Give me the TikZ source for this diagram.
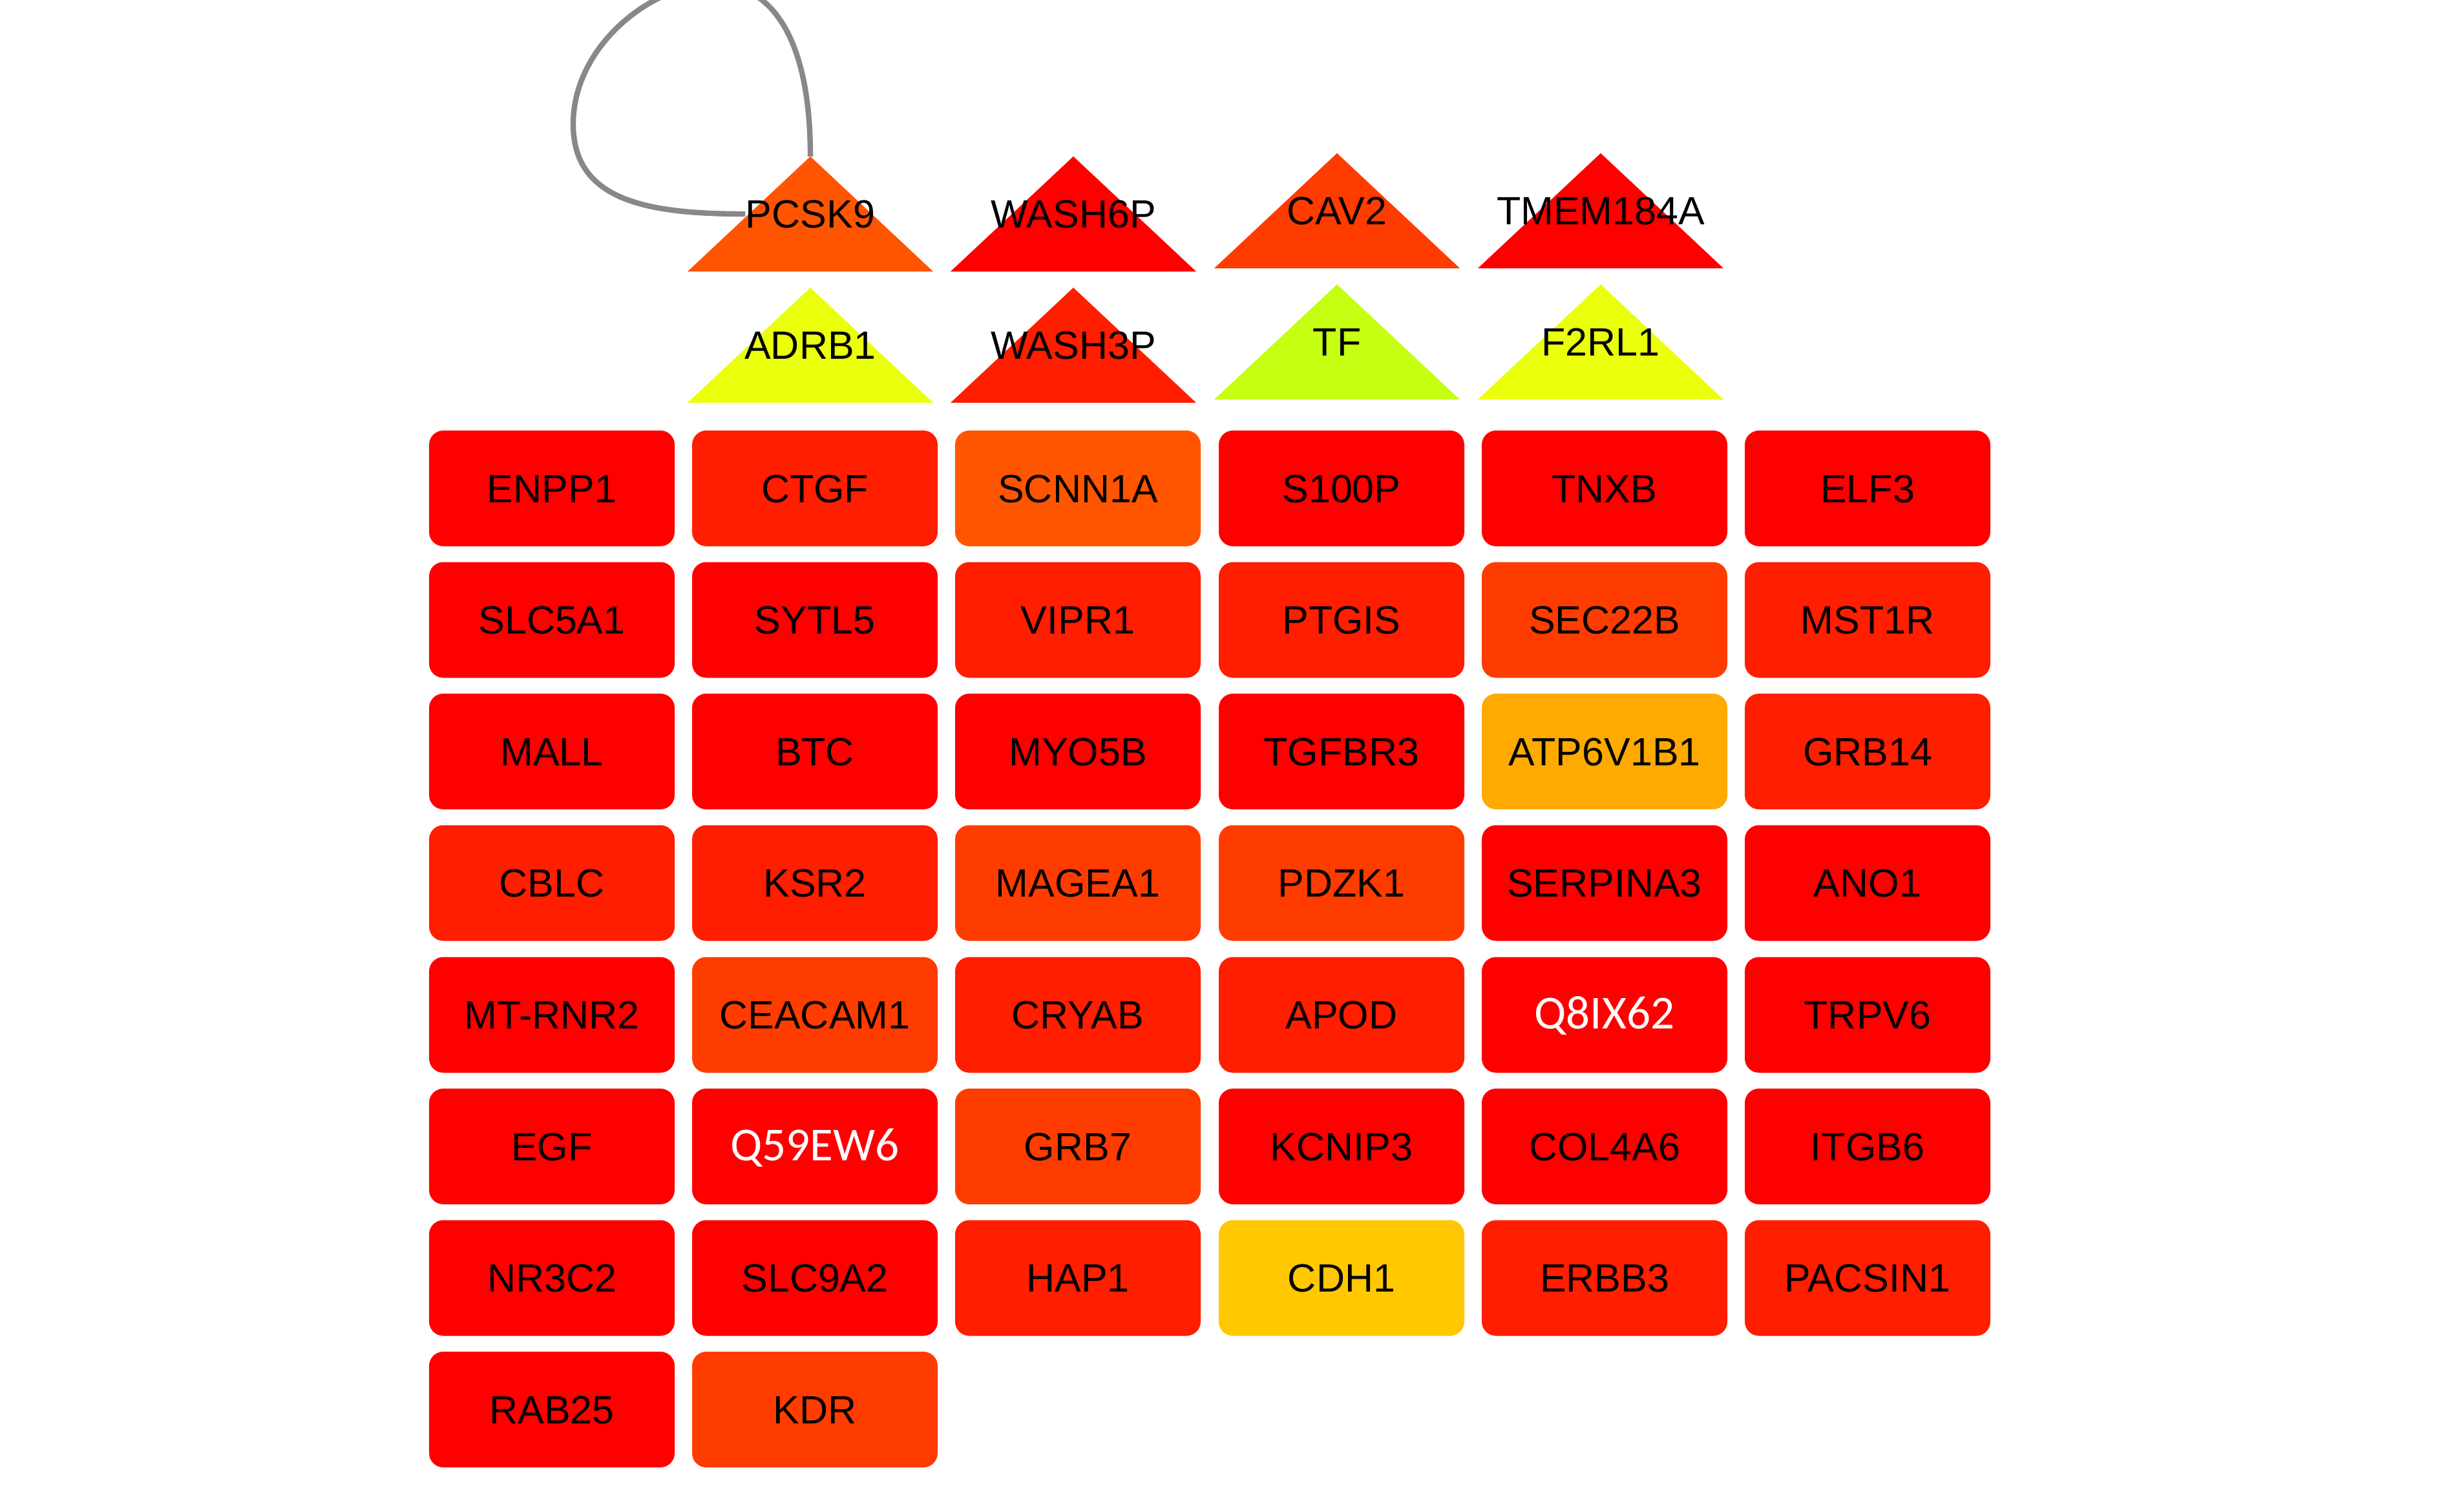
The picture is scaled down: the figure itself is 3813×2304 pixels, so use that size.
\documentclass[tikz,border=0pt]{standalone}
\usepackage{fontspec}
\setmainfont{Liberation Sans}
\newfontfamily\qfont{Carlito}

\definecolor{gred}{HTML}{FF0000}
\definecolor{gredA}{HTML}{FF1E00}
\definecolor{gredB}{HTML}{FF3C00}
\definecolor{gorange}{HTML}{FF5500}
\definecolor{gamber}{HTML}{FFAA00}
\definecolor{ggold}{HTML}{FFC800}
\definecolor{gyellow}{HTML}{EAFF0C}
\definecolor{glime}{HTML}{C5FF12}
\definecolor{loopgray}{HTML}{888888}

\tikzset{
  gene/.style={rounded corners=5.5pt, minimum width=95pt, minimum height=44.75pt,
    inner sep=0pt, font=\fontsize{15.25}{18}\selectfont, text height=10.9pt, text depth=0pt},
  tlabel/.style={inner sep=0pt, font=\fontsize{15.25}{18}\selectfont, text height=10.9pt, text depth=0pt},
  uniprot/.style={text=white, font=\qfont\fontsize{18.3}{22}\selectfont},
  selfloop/.style={draw=loopgray, line width=2.1pt},
}

\begin{document}
\begin{tikzpicture}[x=0.25pt, y=-0.25pt]
        \useasboundingbox (0,0) rectangle (3813,2304);
        \clip (0,0) rectangle (3813,2304);

        % triangles, upper row
        \fill[gorange] (1064,420) -- (1254,242) -- (1444,420) -- cycle;
        \fill[gred] (1471,420) -- (1661,242) -- (1851,420) -- cycle;
        \fill[gredB] (1879,415) -- (2069,237) -- (2259,415) -- cycle;
        \fill[gred] (2287,415) -- (2477,237) -- (2667,415) -- cycle;
        % triangles, lower row
        \fill[gyellow] (1064,623) -- (1254,445) -- (1444,623) -- cycle;
        \fill[gredA] (1471,623) -- (1661,445) -- (1851,623) -- cycle;
        \fill[glime] (1879,618) -- (2069,440) -- (2259,618) -- cycle;
        \fill[gyellow] (2287,618) -- (2477,440) -- (2667,618) -- cycle;

        \coordinate (PCSK9top) at (1254,242);
        \node[tlabel] (PCSK9) at (1254,331) {PCSK9};
        \node[tlabel] (WASH6P) at (1661,331) {WASH6P};
        \node[tlabel] (CAV2) at (2069,326) {CAV2};
        \node[tlabel] (TMEM184A) at (2477,326) {TMEM184A};
        \node[tlabel] (ADRB1) at (1254,534) {ADRB1};
        \node[tlabel] (WASH3P) at (1661,534) {WASH3P};
        \node[tlabel] (TF) at (2069,529) {TF};
        \node[tlabel] (F2RL1) at (2477,529) {F2RL1};

        % self loop on PCSK9
        \draw[selfloop] (PCSK9top) .. controls (1254,60) and (1195,-25) .. (1105,-25)
              .. controls (1010,-25) and (887,70) .. (887,192)
              .. controls (887,310) and (1000,331) .. (PCSK9.west);

        % boxes
        \node[gene, fill=gred] (ENPP1) at (854,755.5) {ENPP1};
        \node[gene, fill=gredA] (CTGF) at (1261,755.5) {CTGF};
        \node[gene, fill=gorange] (SCNN1A) at (1668,755.5) {SCNN1A};
        \node[gene, fill=gred] (S100P) at (2076,755.5) {S100P};
        \node[gene, fill=gred] (TNXB) at (2483,755.5) {TNXB};
        \node[gene, fill=gred] (ELF3) at (2890,755.5) {ELF3};

        \node[gene, fill=gred] (SLC5A1) at (854,959) {SLC5A1};
        \node[gene, fill=gred] (SYTL5) at (1261,959) {SYTL5};
        \node[gene, fill=gredA] (VIPR1) at (1668,959) {VIPR1};
        \node[gene, fill=gredA] (PTGIS) at (2076,959) {PTGIS};
        \node[gene, fill=gredB] (SEC22B) at (2483,959) {SEC22B};
        \node[gene, fill=gredA] (MST1R) at (2890,959) {MST1R};

        \node[gene, fill=gred] (MALL) at (854,1162.5) {MALL};
        \node[gene, fill=gred] (BTC) at (1261,1162.5) {BTC};
        \node[gene, fill=gred] (MYO5B) at (1668,1162.5) {MYO5B};
        \node[gene, fill=gred] (TGFBR3) at (2076,1162.5) {TGFBR3};
        \node[gene, fill=gamber] (ATP6V1B1) at (2483,1162.5) {ATP6V1B1};
        \node[gene, fill=gredA] (GRB14) at (2890,1162.5) {GRB14};

        \node[gene, fill=gredA] (CBLC) at (854,1366) {CBLC};
        \node[gene, fill=gredA] (KSR2) at (1261,1366) {KSR2};
        \node[gene, fill=gredB] (MAGEA1) at (1668,1366) {MAGEA1};
        \node[gene, fill=gredB] (PDZK1) at (2076,1366) {PDZK1};
        \node[gene, fill=gred] (SERPINA3) at (2483,1366) {SERPINA3};
        \node[gene, fill=gred] (ANO1) at (2890,1366) {ANO1};

        \node[gene, fill=gred] (MTRNR2) at (854,1570) {MT-RNR2};
        \node[gene, fill=gredB] (CEACAM1) at (1261,1570) {CEACAM1};
        \node[gene, fill=gredA] (CRYAB) at (1668,1570) {CRYAB};
        \node[gene, fill=gredA] (APOD) at (2076,1570) {APOD};
        \node[gene, uniprot, fill=gred] (Q8IX62) at (2483,1570) {Q8IX62};
        \node[gene, fill=gred] (TRPV6) at (2890,1570) {TRPV6};

        \node[gene, fill=gred] (EGF) at (854,1773.5) {EGF};
        \node[gene, uniprot, fill=gred] (Q59EW6) at (1261,1773.5) {Q59EW6};
        \node[gene, fill=gredB] (GRB7) at (1668,1773.5) {GRB7};
        \node[gene, fill=gred] (KCNIP3) at (2076,1773.5) {KCNIP3};
        \node[gene, fill=gred] (COL4A6) at (2483,1773.5) {COL4A6};
        \node[gene, fill=gred] (ITGB6) at (2890,1773.5) {ITGB6};

        \node[gene, fill=gred] (NR3C2) at (854,1977) {NR3C2};
        \node[gene, fill=gred] (SLC9A2) at (1261,1977) {SLC9A2};
        \node[gene, fill=gredA] (HAP1) at (1668,1977) {HAP1};
        \node[gene, fill=ggold] (CDH1) at (2076,1977) {CDH1};
        \node[gene, fill=gredA] (ERBB3) at (2483,1977) {ERBB3};
        \node[gene, fill=gredA] (PACSIN1) at (2890,1977) {PACSIN1};

        \node[gene, fill=gred] (RAB25) at (854,2180.5) {RAB25};
        \node[gene, fill=gredB] (KDR) at (1261,2180.5) {KDR};
\end{tikzpicture}
\end{document}
